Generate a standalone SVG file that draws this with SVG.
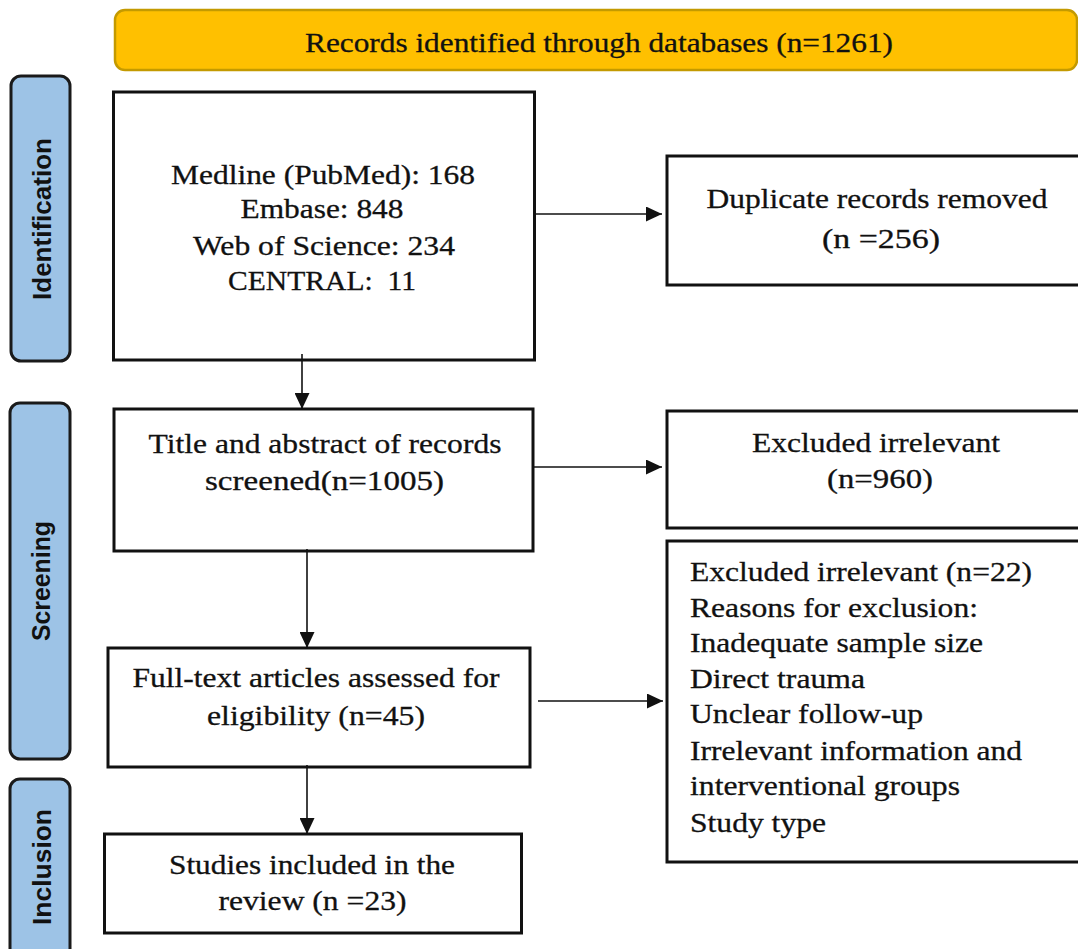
<svg xmlns="http://www.w3.org/2000/svg" width="1078" height="949" viewBox="0 0 1078 949">
<style>
.box{fill:#fff;stroke:#111;stroke-width:3}
.lbl{fill:#9DC3E6;stroke:#1a1a1a;stroke-width:3}
.lt{font-family:"Liberation Sans",Arial,sans-serif;font-weight:bold;font-size:26px;fill:#111;text-anchor:middle}
.t{font-family:"Liberation Serif","Times New Roman",serif;font-size:28px;fill:#111;stroke:#111;stroke-width:0.3}
.c{text-anchor:middle}
.ln{stroke:#111;stroke-width:1.6;fill:none}
</style>
<defs>
<marker id="ah" viewBox="0 0 16 15" refX="16" refY="7.5" markerWidth="16" markerHeight="15" markerUnits="userSpaceOnUse" orient="auto">
<path d="M0,0 L16,7.5 L0,15 z" fill="#111"/>
</marker>
</defs>
<rect width="1078" height="949" fill="#fff"/>

<g id="records">
<rect x="115" y="10" width="962" height="60" rx="10" fill="#FFC000" stroke="#C49A00" stroke-width="2.5"/>
<text class="t c" x="599" y="52" textLength="588" lengthAdjust="spacingAndGlyphs">Records identified through databases (n=1261)</text>
</g>

<g id="label-identification">
<rect class="lbl" x="11" y="76" width="59" height="285" rx="10"/>
<text class="lt" transform="translate(51,219) rotate(-90)" textLength="162" lengthAdjust="spacingAndGlyphs">Identification</text>
</g>
<g id="label-screening">
<rect class="lbl" x="10" y="403" width="60" height="356" rx="10"/>
<text class="lt" transform="translate(50,581) rotate(-90)" textLength="120" lengthAdjust="spacingAndGlyphs">Screening</text>
</g>
<g id="label-inclusion">
<rect class="lbl" x="10" y="779" width="60" height="200" rx="10"/>
<text class="lt" transform="translate(51,867) rotate(-90)" textLength="116" lengthAdjust="spacingAndGlyphs">Inclusion</text>
</g>

<g id="databases">
<rect class="box" x="113.5" y="92" width="421" height="268"/>
<text class="t c" x="323" y="184" textLength="304" lengthAdjust="spacingAndGlyphs">Medline (PubMed): 168</text>
<text class="t c" x="322" y="218" textLength="163" lengthAdjust="spacingAndGlyphs">Embase: 848</text>
<text class="t c" x="324" y="255" textLength="262" lengthAdjust="spacingAndGlyphs">Web of Science: 234</text>
<text class="t c" x="322" y="290" textLength="188" lengthAdjust="spacingAndGlyphs" xml:space="preserve">CENTRAL:  11</text>
</g>

<g id="duplicates">
<rect class="box" x="667" y="156" width="420" height="129"/>
<text class="t c" x="877" y="208" textLength="341" lengthAdjust="spacingAndGlyphs">Duplicate records removed</text>
<text class="t c" x="881" y="248" textLength="118" lengthAdjust="spacingAndGlyphs">(n =256)</text>
</g>

<g id="screened">
<rect class="box" x="114" y="409" width="419" height="142"/>
<text class="t c" x="325" y="453" textLength="353" lengthAdjust="spacingAndGlyphs">Title and abstract of records</text>
<text class="t c" x="324.5" y="490" textLength="239" lengthAdjust="spacingAndGlyphs">screened(n=1005)</text>
</g>

<g id="excluded-960">
<rect class="box" x="667" y="411" width="420" height="117"/>
<text class="t c" x="876" y="452" textLength="248" lengthAdjust="spacingAndGlyphs">Excluded irrelevant</text>
<text class="t c" x="880" y="488" textLength="106" lengthAdjust="spacingAndGlyphs">(n=960)</text>
</g>

<g id="fulltext">
<rect class="box" x="108" y="648" width="422" height="119"/>
<text class="t c" x="316" y="687" textLength="367" lengthAdjust="spacingAndGlyphs">Full-text articles assessed for</text>
<text class="t c" x="316" y="725" textLength="218" lengthAdjust="spacingAndGlyphs">eligibility (n=45)</text>
</g>

<g id="excluded-22">
<rect class="box" x="667" y="541" width="420" height="321"/>
<text class="t" x="690" y="581" textLength="342" lengthAdjust="spacingAndGlyphs">Excluded irrelevant (n=22)</text>
<text class="t" x="690" y="617" textLength="288" lengthAdjust="spacingAndGlyphs">Reasons for exclusion:</text>
<text class="t" x="690" y="652" textLength="293" lengthAdjust="spacingAndGlyphs">Inadequate sample size</text>
<text class="t" x="690" y="688" textLength="175" lengthAdjust="spacingAndGlyphs">Direct trauma</text>
<text class="t" x="690" y="723" textLength="233" lengthAdjust="spacingAndGlyphs">Unclear follow-up</text>
<text class="t" x="690" y="760" textLength="332" lengthAdjust="spacingAndGlyphs">Irrelevant information and</text>
<text class="t" x="690" y="795" textLength="270" lengthAdjust="spacingAndGlyphs">interventional groups</text>
<text class="t" x="690" y="832" textLength="136" lengthAdjust="spacingAndGlyphs">Study type</text>
</g>

<g id="included">
<rect class="box" x="104.5" y="834" width="417" height="99"/>
<text class="t c" x="312" y="874" textLength="286" lengthAdjust="spacingAndGlyphs">Studies included in the</text>
<text class="t c" x="312.5" y="910" textLength="188" lengthAdjust="spacingAndGlyphs">review (n =23)</text>
</g>

<g id="connectors">
<line class="ln" x1="535" y1="214" x2="662" y2="214" marker-end="url(#ah)"/>
<line class="ln" x1="302" y1="354" x2="302" y2="409" marker-end="url(#ah)"/>
<line class="ln" x1="533" y1="467" x2="662" y2="467" marker-end="url(#ah)"/>
<line class="ln" x1="307" y1="549" x2="307" y2="648" marker-end="url(#ah)"/>
<line class="ln" x1="538" y1="701" x2="663" y2="701" marker-end="url(#ah)"/>
<line class="ln" x1="307" y1="765" x2="307" y2="834" marker-end="url(#ah)"/>
</g>
</svg>
